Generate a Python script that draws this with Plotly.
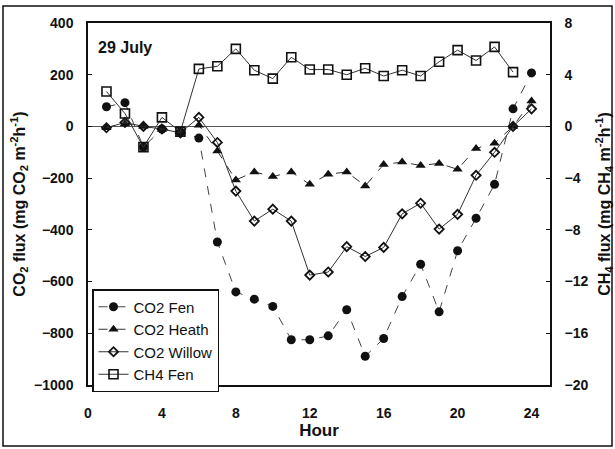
import plotly.graph_objects as go

# Diurnal flux measurements, 29 July
hours = list(range(1, 25))
co2_fen = [76, 92, -80, -10, -20, -45, -447, -640, -668, -696, -825, -825,
           -810, -709, -889, -820, -658, -533, -717, -481, -355, -224, 68, 207]
co2_heath = [-5, 10, 0, -12, -20, 5, -95, -207, -176, -194, -176, -224,
             -185, -176, -230, -147, -138, -151, -143, -166, -85, -65, 0, 98]
co2_willow = [-5, 15, 0, -10, -25, 35, -62, -250, -366, -320, -366, -575,
              -563, -465, -503, -468, -338, -297, -397, -340, -189, -100, 0, 68]
ch4_hours = list(range(1, 24))
ch4_fen = [2.7, 1.0, -1.6, 0.7, -0.4, 4.45, 4.65, 6.0, 4.35, 3.7, 5.35, 4.4,
           4.4, 4.0, 4.5, 3.9, 4.35, 3.9, 5.0, 5.9, 5.1, 6.15, 4.2]

x_ticks = [0, 4, 8, 12, 16, 20, 24]
left_ticks = [400, 200, 0, -200, -400, -600, -800, -1000]
right_ticks = [8, 4, 0, -4, -8, -12, -16, -20]

W, H = 615, 449
ML, MR, MT, MB = 88, 65, 23, 64
PW, PH = W - ML - MR, H - MT - MB

FONT = "Liberation Sans, Arial, sans-serif"
INK = "#111111"

fig = go.Figure()

fig.add_trace(go.Scatter(
    x=hours, y=co2_fen, name="CO2 Fen", mode="lines+markers",
    line=dict(color="#444444", width=1, dash="dash"),
    marker=dict(symbol="circle", size=9, color=INK)))
fig.add_trace(go.Scatter(
    x=hours, y=co2_heath, name="CO2 Heath", mode="lines+markers",
    line=dict(color="#333333", width=1, dash="dash"),
    marker=dict(symbol="triangle-up", size=9, color=INK)))
fig.add_trace(go.Scatter(
    x=hours, y=co2_willow, name="CO2 Willow", mode="lines+markers",
    line=dict(color="#333333", width=1),
    marker=dict(symbol="diamond-open", size=7, color=INK,
                line=dict(width=1.8, color=INK))))
fig.add_trace(go.Scatter(
    x=ch4_hours, y=ch4_fen, name="CH4 Fen", mode="lines+markers", yaxis="y2",
    line=dict(color="#333333", width=1),
    marker=dict(symbol="square-open", size=9, color=INK,
                line=dict(width=1.6, color=INK))))

axis_common = dict(
    showgrid=False, showline=True, linecolor=INK, linewidth=1.5,
    ticks="inside", ticklen=4, tickcolor=INK, mirror=False, automargin=False,
    tickfont=dict(family=FONT, size=14, color=INK, weight="bold"),
)

fig.update_layout(
    width=W, height=H,
    margin=dict(l=ML, r=MR, t=MT, b=MB),
    paper_bgcolor="white", plot_bgcolor="white",
    font=dict(family=FONT, color=INK),
    xaxis=dict(
        axis_common, range=[0, 25], tickvals=x_ticks, mirror=True,
        ticks="", zeroline=False, ticklabelstandoff=14,
        title=dict(text="Hour", standoff=4,
                   font=dict(family=FONT, size=17, color=INK, weight="bold")),
    ),
    yaxis=dict(
        axis_common, range=[-1000, 400], tickvals=left_ticks,
        zeroline=True, zerolinecolor="#555555", zerolinewidth=1,
        ticklabelstandoff=10,
        title=dict(text="CO<sub>2</sub> flux (mg CO<sub>2</sub> m<sup>-2</sup>h<sup>-1</sup>)",
                   standoff=5,
                   font=dict(family=FONT, size=16, color=INK, weight="bold")),
    ),
    yaxis2=dict(
        axis_common, range=[-20, 8], tickvals=right_ticks, overlaying="y",
        side="right", zeroline=False, ticklabelstandoff=10,
        title=dict(text="CH<sub>4</sub> flux (mg CH<sub>4</sub> m<sup>-2</sup>h<sup>-1</sup>)",
                   standoff=11,
                   font=dict(family=FONT, size=16, color=INK, weight="bold")),
    ),
    legend=dict(
        x=(92 - ML) / PW, y=(MT + PH - 289) / PH, xanchor="left", yanchor="top",
        bgcolor="white", bordercolor=INK, borderwidth=1.5,
        font=dict(family=FONT, size=15, color=INK),
        tracegroupgap=0, itemwidth=30,
    ),
    showlegend=True,
)

# Date label in the top-left corner of the plot
fig.add_annotation(
    x=(96 - ML) / PW, y=(MT + PH - 47) / PH, xref="paper", yref="paper",
    text="<b>29 July</b>", showarrow=False, xanchor="left", yanchor="middle",
    font=dict(family=FONT, size=16, color=INK))

# Frame around the whole figure
fig.add_shape(
    type="rect", xref="paper", yref="paper", layer="below",
    x0=(3 - ML) / PW, x1=(612 - ML) / PW,
    y0=(MT + PH - 446) / PH, y1=(MT + PH - 6) / PH,
    line=dict(color=INK, width=1.5), fillcolor="rgba(0,0,0,0)")

fig.write_html("out.html")
